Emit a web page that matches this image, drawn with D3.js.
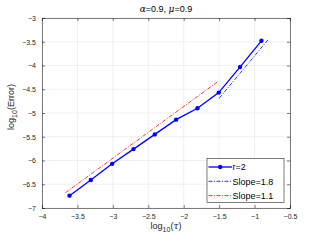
<!DOCTYPE html>
<html>
<head>
<meta charset="utf-8">
<script src="https://cdn.jsdelivr.net/npm/d3@7"></script>
<style>
  body { margin: 0; background: #fff; }
  text { font-family: "Liberation Sans", Arial, sans-serif; }
</style>
</head>
<body>
<script>
// log10(tau) and log10(Error) for r=2
var logTau = [-3.612, -3.311, -3.010, -2.709, -2.408, -2.107, -1.806, -1.505, -1.204, -0.903];
var logErr = [-6.74, -6.41, -6.07, -5.76, -5.45, -5.14, -4.90, -4.57, -4.03, -3.48];

// reference slope lines (endpoints)
var slope18X = [-1.50, -0.80];
var slope18Y = [-4.69, -3.44];
var slope11X = [-3.67, -1.51];
var slope11Y = [-6.68, -4.33];

var xTicks = [-4, -3.5, -3, -2.5, -2, -1.5, -1, -0.5];
var yTicks = [-7, -6.5, -6, -5.5, -5, -4.5, -4, -3.5, -3];
var legendLabels = ["r=2", "Slope=1.8", "Slope=1.1"];

var width = 321, height = 241;
var margin = {left: 42, right: 31, top: 18, bottom: 33};

var svg = d3.select("body").append("svg")
  .attr("width", width)
  .attr("height", height);

var x = d3.scaleLinear().domain([-4, -0.5]).range([margin.left, width - margin.right]);
var y = d3.scaleLinear().domain([-7, -3]).range([height - margin.bottom, margin.top]);

var tickColor = "#262626";

// grid
svg.append("g").selectAll("line").data(xTicks).enter().append("line")
  .attr("x1", d => x(d)).attr("x2", d => x(d))
  .attr("y1", y(-7)).attr("y2", y(-3))
  .attr("stroke", "#e6e6e6").attr("stroke-width", 0.6);
svg.append("g").selectAll("line").data(yTicks).enter().append("line")
  .attr("y1", d => y(d)).attr("y2", d => y(d))
  .attr("x1", x(-4)).attr("x2", x(-0.5))
  .attr("stroke", "#e6e6e6").attr("stroke-width", 0.6);

// axes
var xAxis = svg.append("g")
  .attr("transform", "translate(0," + y(-7) + ")")
  .call(d3.axisBottom(x).tickValues(xTicks).tickSize(-3).tickPadding(6).tickFormat(d3.format("")));
var xAxisTop = svg.append("g")
  .attr("transform", "translate(0," + y(-3) + ")")
  .call(d3.axisTop(x).tickValues(xTicks).tickSize(-3).tickFormat(""));
var yAxis = svg.append("g")
  .attr("transform", "translate(" + x(-4) + ",0)")
  .call(d3.axisLeft(y).tickValues(yTicks).tickSize(-3).tickPadding(6).tickFormat(d3.format("")));
var yAxisRight = svg.append("g")
  .attr("transform", "translate(" + x(-0.5) + ",0)")
  .call(d3.axisRight(y).tickValues(yTicks).tickSize(-3).tickFormat(""));

[xAxis, xAxisTop, yAxis, yAxisRight].forEach(function (g) {
  g.select(".domain").attr("stroke", tickColor).attr("stroke-width", 0.6);
  g.selectAll(".tick line").attr("stroke", tickColor).attr("stroke-width", 0.6);
  g.selectAll(".tick text").attr("fill", tickColor).style("font-size", "7px")
    .style("font-family", "Liberation Sans, Arial, sans-serif");
});

// slope lines
var line = d3.line().x(d => x(d[0])).y(d => y(d[1]));

svg.append("path")
  .datum(d3.zip(slope11X, slope11Y))
  .attr("d", line)
  .attr("fill", "none").attr("stroke", "#ff0000").attr("stroke-width", 0.8)
  .attr("stroke-dasharray", "4,1.5,1,1.5");

svg.append("path")
  .datum(d3.zip(slope18X, slope18Y))
  .attr("d", line)
  .attr("fill", "none").attr("stroke", "#0000ff").attr("stroke-width", 0.8)
  .attr("stroke-dasharray", "4,1.5,1,1.5");

// main series
svg.append("path")
  .datum(d3.zip(logTau, logErr))
  .attr("d", line)
  .attr("fill", "none").attr("stroke", "#0000ff").attr("stroke-width", 1.3);

svg.append("g").selectAll("circle").data(d3.zip(logTau, logErr)).enter().append("circle")
  .attr("cx", d => x(d[0])).attr("cy", d => y(d[1]))
  .attr("r", 2.2).attr("fill", "#0000ff");

// title
var title = svg.append("text")
  .attr("x", (x(-4) + x(-0.5)) / 2).attr("y", 12)
  .attr("text-anchor", "middle")
  .style("font-size", "9px").attr("fill", "#000");
title.append("tspan").text("α").style("font-style", "italic").style("font-family", "DejaVu Serif, serif");
title.append("tspan").text("=0.9, ");
title.append("tspan").text("μ").style("font-style", "italic").style("font-family", "DejaVu Serif, serif");
title.append("tspan").text("=0.9");

// x label
var xl = svg.append("text")
  .attr("x", (x(-4) + x(-0.5)) / 2).attr("y", 229)
  .attr("text-anchor", "middle")
  .style("font-size", "9px").attr("fill", tickColor);
xl.append("tspan").text("log");
xl.append("tspan").text("10").attr("dy", 2.5).style("font-size", "7px");
xl.append("tspan").text("(").attr("dy", -2.5);
xl.append("tspan").text("τ").style("font-style", "italic").style("font-family", "DejaVu Serif, serif");
xl.append("tspan").text(")");

// y label
var yl = svg.append("text")
  .attr("transform", "translate(14," + ((y(-7) + y(-3)) / 2 - 6) + ") rotate(-90)")
  .attr("text-anchor", "middle")
  .style("font-size", "9px").attr("fill", tickColor);
yl.append("tspan").text("log");
yl.append("tspan").text("10").attr("dy", 2.5).style("font-size", "7px");
yl.append("tspan").text("(Error)").attr("dy", -2.5);

// legend
var lx = 207, ly = 158.5, lw = 77, lh = 44;
var legend = svg.append("g");
legend.append("rect")
  .attr("x", lx).attr("y", ly).attr("width", lw).attr("height", lh)
  .attr("fill", "#fff").attr("stroke", tickColor).attr("stroke-width", 0.6);

var legendColors = ["#0000ff", "#0000ff", "#ff0000"];
var legendDash = [null, "4,1.5,1,1.5", "4,1.5,1,1.5"];
legendLabels.forEach(function (lab, i) {
  var yy = ly + 8.5 + i * 14.3;
  legend.append("line")
    .attr("x1", lx + 1.5).attr("x2", lx + 25)
    .attr("y1", yy).attr("y2", yy)
    .attr("stroke", legendColors[i])
    .attr("stroke-width", i === 0 ? 1.3 : 0.8)
    .attr("stroke-dasharray", legendDash[i]);
  if (i === 0) {
    legend.append("circle").attr("cx", lx + 13.2).attr("cy", yy).attr("r", 2.2).attr("fill", "#0000ff");
  }
  legend.append("text")
    .attr("x", lx + 25.5).attr("y", yy + 3.2)
    .style("font-size", "9px").attr("fill", "#000")
    .text(lab);
});
</script>
</body>
</html>
